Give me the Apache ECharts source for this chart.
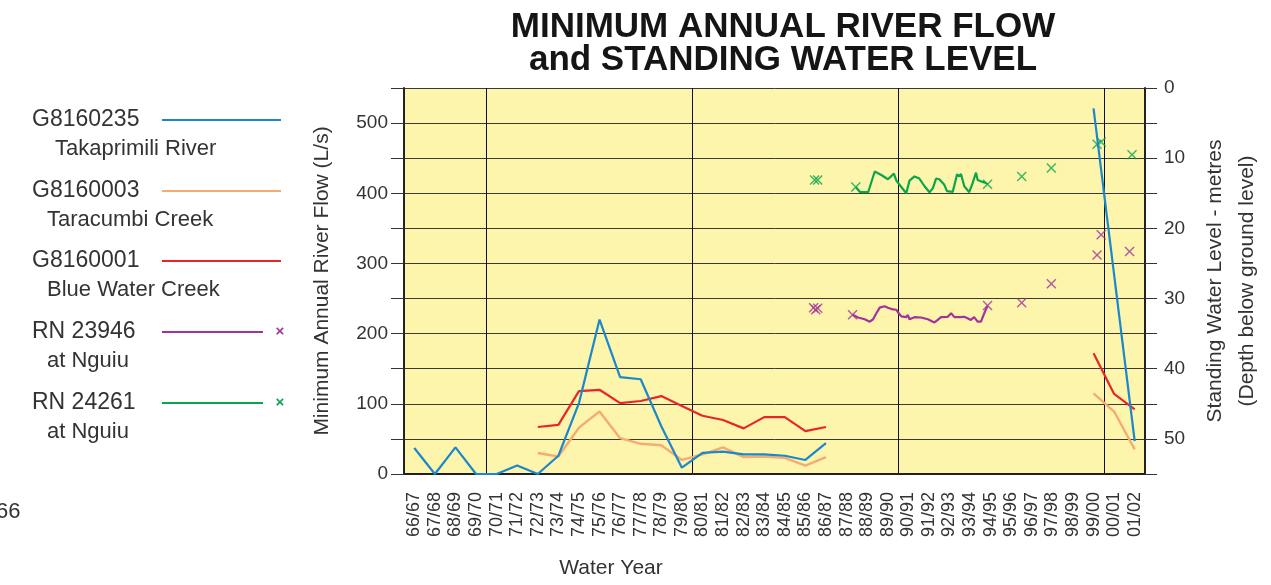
<!DOCTYPE html>
<html>
<head>
<meta charset="utf-8">
<script src="https://cdn.jsdelivr.net/npm/echarts@6/dist/echarts.min.js"></script>
<style>
  html, body { margin: 0; padding: 0; background: #fff; }
  #chart { width: 1271px; height: 585px; }
</style>
</head>
<body>
<div id="chart"></div>
<script>
  // water years (x axis)
  var waterYears = ['66/67','67/68','68/69','69/70','70/71','71/72','72/73','73/74','74/75','75/76',
    '76/77','77/78','78/79','79/80','80/81','81/82','82/83','83/84','84/85','85/86',
    '86/87','87/88','88/89','89/90','90/91','91/92','92/93','93/94','94/95','95/96',
    '96/97','97/98','98/99','99/00','00/01','01/02'];
  var decadeStarts = ['70/71','80/81','90/91','00/01'];

  // minimum annual river flow, L/s  (null = no record)
  var takaprimiliFlow = [37,0,38,0,0,12,0,26,101,220,138,135,68,9,30,32,28,28,26,20,44,
    null,null,null,null,null,null,null,null,null,null,null,null,521,null,47];
  var taracumbiFlow = [null,null,null,null,null,null,30,25,66,89,51,43,41,20,28,38,24,25,23,12,24,
    null,null,null,null,null,null,null,null,null,null,null,null,115,89,35];
  var blueWaterFlow = [null,null,null,null,null,null,67,70,118,120,101,104,111,97,83,77,65,81,81,61,67,
    null,null,null,null,null,null,null,null,null,null,null,null,172,114,92];

  // standing water level, metres below ground  [decimal year, depth]
  var rn23946Line = [[1987.79,32.3],[1988.06,32.7],[1988.38,32.95],[1988.63,33.3],[1988.79,32.95],[1988.95,32.1],
    [1989.11,31.3],[1989.35,31.1],[1989.51,31.3],[1989.75,31.55],[1989.92,31.6],[1990.0,31.95],[1990.16,32.55],
    [1990.24,32.35],[1990.4,32.65],[1990.48,32.35],[1990.56,32.95],[1990.8,32.65],[1991.12,32.7],[1991.45,32.95],
    [1991.77,33.4],[1991.93,33.05],[1992.09,32.65],[1992.42,32.6],[1992.58,32.1],[1992.74,32.65],[1992.98,32.65],
    [1993.22,32.6],[1993.38,32.8],[1993.54,33.05],[1993.7,32.65],[1993.87,33.3],[1994.03,33.3],[1994.19,32.1],
    [1994.35,31.05]];
  var rn23946Points = [[1985.9,31.3],[1986.0,31.6],[1986.1,31.4],[1987.79,32.3],[1994.35,31.0],[1996.01,30.6],
    [1997.45,27.9],[1999.67,23.8],[1999.87,20.9],[2001.25,23.3]];
  var rn24261Line = [[1987.95,14.1],[1988.14,14.8],[1988.55,14.85],[1988.87,11.9],[1989.19,12.4],[1989.51,13.0],
    [1989.8,12.2],[1989.92,13.2],[1990.16,14.1],[1990.4,15.0],[1990.56,13.2],[1990.8,12.6],[1991.04,12.9],
    [1991.29,14.0],[1991.53,14.85],[1991.69,14.3],[1991.85,12.9],[1992.01,13.0],[1992.25,13.8],[1992.38,14.7],
    [1992.66,14.8],[1992.87,12.3],[1992.98,12.6],[1993.06,12.25],[1993.22,14.0],[1993.46,14.85],[1993.62,13.6],
    [1993.79,12.06],[1993.87,13.1],[1994.03,13.3],[1994.19,13.45],[1994.35,13.7]];
  var rn24261Points = [[1985.95,13.1],[1986.1,13.1],[1987.95,14.1],[1994.35,13.7],[1996.01,12.6],
    [1997.45,11.4],[1999.67,8.0],[1999.87,7.7],[2001.37,9.5]];

  var FONT = "'Liberation Sans', Arial, sans-serif";
  var crossSymbol = 'path://M0,1L1,0L5,4L9,0L10,1L6,5L10,9L9,10L5,6L1,10L0,9L4,5Z';

  // legend entries drawn by hand (text left, line right)
  var legendItems = [
    { code: 'G8160235', place: 'Takaprimili River', color: '#1b87cc', y: 120, indent: 55, mark: false },
    { code: 'G8160003', place: 'Taracumbi Creek', color: '#f6ab74', y: 191, indent: 47, mark: false },
    { code: 'G8160001', place: 'Blue Water Creek', color: '#e8262a', y: 261, indent: 47, mark: false },
    { code: 'RN 23946', place: 'at Nguiu', color: '#a2339b', y: 332, indent: 47, mark: true },
    { code: 'RN 24261', place: 'at Nguiu', color: '#0aa64c', y: 403, indent: 47, mark: true }
  ];

  var graphics = [
    { type: 'text', x: 783, y: 27, style: { text: 'MINIMUM ANNUAL RIVER FLOW', font: 'bold 35px ' + FONT,
      fill: '#151515', align: 'center', verticalAlign: 'middle' } },
    { type: 'text', x: 783, y: 60, style: { text: 'and STANDING WATER LEVEL', font: 'bold 35px ' + FONT,
      fill: '#151515', align: 'center', verticalAlign: 'middle' } },
    { type: 'text', x: 611, y: 568, style: { text: 'Water Year', font: '21px ' + FONT, fill: '#333',
      align: 'center', verticalAlign: 'middle' } },
    { type: 'text', x: -4, y: 512, style: { text: '66', font: '22px ' + FONT, fill: '#333', verticalAlign: 'middle' } }
  ];
  legendItems.forEach(function (it) {
    graphics.push({ type: 'text', x: 32, y: it.y, style: { text: it.code, font: '23px ' + FONT, fill: '#333', verticalAlign: 'middle' } });
    graphics.push({ type: 'text', x: it.indent, y: it.y + 29, style: { text: it.place, font: '22px ' + FONT, fill: '#333', verticalAlign: 'middle' } });
    graphics.push({ type: 'line', shape: { x1: 162, y1: it.y, x2: it.mark ? 263 : 281, y2: it.y }, style: { stroke: it.color, lineWidth: 2 } });
    if (it.mark) {
      graphics.push({ type: 'text', x: 280, y: it.y, style: { text: '×', font: 'bold 15px ' + FONT, fill: it.color, align: 'center', verticalAlign: 'middle' } });
    }
  });

  var myChart = echarts.init(document.getElementById('chart'));
  var option = {
    backgroundColor: '#fff',
    animation: false,
    textStyle: { fontFamily: FONT },
    graphic: graphics,
    grid: { left: 404, right: 123, top: 88, bottom: 111, show: true, backgroundColor: '#fcf5ab', borderWidth: 0 },
    xAxis: [
      {
        type: 'category',
        data: waterYears,
        boundaryGap: true,
        axisLine: { show: true, lineStyle: { color: '#222', width: 2 } },
        axisTick: { show: false },
        axisLabel: { rotate: 90, interval: 0, fontSize: 18, color: '#333', margin: 18 },
        splitLine: {
          show: true,
          interval: function (index, value) { return decadeStarts.indexOf(value) >= 0; },
          lineStyle: { color: '#111', width: 1 }
        }
      },
      { type: 'value', min: 1966, max: 2002, show: false }
    ],
    yAxis: [
      {
        type: 'value',
        min: 0, max: 550, interval: 50,
        name: 'Minimum Annual River Flow (L/s)',
        nameLocation: 'middle', nameGap: 71,
        nameTextStyle: { fontSize: 21, color: '#333' },
        axisLine: { show: true, lineStyle: { color: '#222', width: 2 } },
        axisTick: { show: true, length: 13, lineStyle: { color: '#333' } },
        axisLabel: { fontSize: 19, color: '#333', margin: 16,
          formatter: function (v) { return v % 100 === 0 ? v : ''; } },
        splitLine: { show: true, lineStyle: { color: '#3a3a3a', width: 1 } }
      },
      {
        type: 'value',
        position: 'right',
        min: 0, max: 55, interval: 5,
        inverse: true,
        name: 'Standing Water Level - metres\n(Depth below ground level)',
        nameLocation: 'middle', nameGap: 54, nameRotate: 90,
        nameTextStyle: { fontSize: 21, color: '#333', lineHeight: 32 },
        axisLine: { show: true, lineStyle: { color: '#222', width: 2 } },
        axisTick: { show: true, length: 12, lineStyle: { color: '#333' } },
        axisLabel: { fontSize: 19, color: '#333', margin: 19,
          formatter: function (v) { return v % 10 === 0 ? v : ''; } },
        splitLine: { show: false }
      }
    ],
    series: [
      { name: 'G8160003', type: 'line', data: taracumbiFlow, symbol: 'none',
        lineStyle: { color: '#f6ab74', width: 2.4 } },
      { name: 'G8160001', type: 'line', data: blueWaterFlow, symbol: 'none',
        lineStyle: { color: '#e8262a', width: 2.2 } },
      { name: 'G8160235', type: 'line', symbol: 'none',
        data: takaprimiliFlow.map(function (v, i) { return i < 30 ? v : null; }),
        lineStyle: { color: '#1b87cc', width: 2.2 } },
      { name: 'G8160235', type: 'line', symbol: 'none', connectNulls: true,
        data: takaprimiliFlow.map(function (v, i) { return i >= 30 ? v : null; }),
        lineStyle: { color: '#1b87cc', width: 2.2 } },
      { name: 'RN 23946', type: 'line', xAxisIndex: 1, yAxisIndex: 1, data: rn23946Line, symbol: 'none',
        lineStyle: { color: '#a2339b', width: 2.2 } },
      { name: 'RN 23946', type: 'scatter', xAxisIndex: 1, yAxisIndex: 1, data: rn23946Points,
        symbol: crossSymbol, symbolSize: 10, itemStyle: { color: '#a2339b' } },
      { name: 'RN 24261', type: 'line', xAxisIndex: 1, yAxisIndex: 1, data: rn24261Line, symbol: 'none',
        lineStyle: { color: '#0aa64c', width: 2.2 } },
      { name: 'RN 24261', type: 'scatter', xAxisIndex: 1, yAxisIndex: 1, data: rn24261Points,
        symbol: crossSymbol, symbolSize: 10, itemStyle: { color: '#0aa64c' } }
    ]
  };
  myChart.setOption(option);
</script>
</body>
</html>
